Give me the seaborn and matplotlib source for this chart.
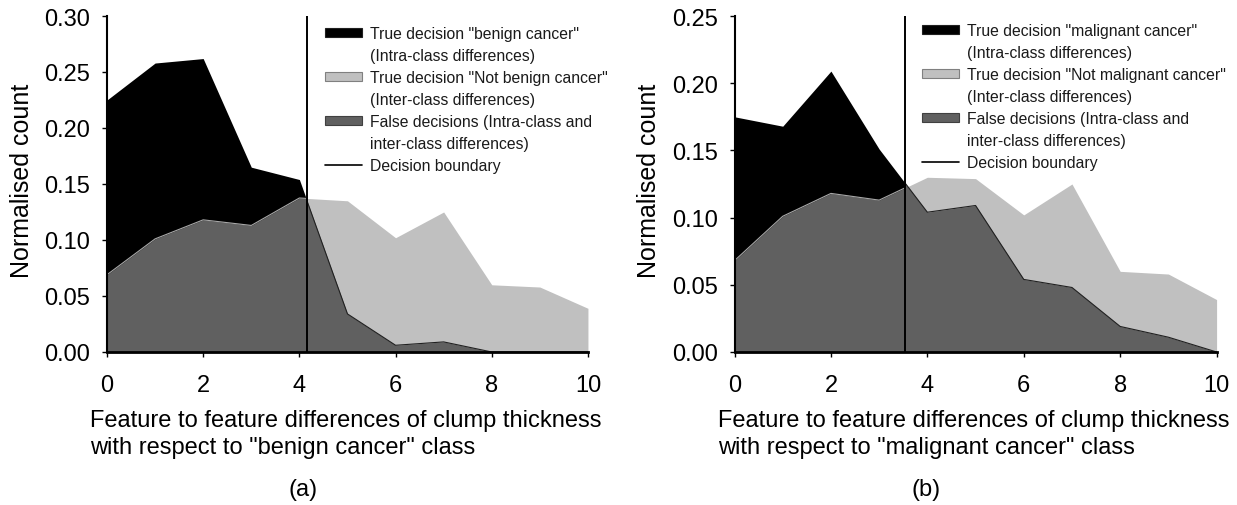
import numpy as np
import pandas as pd
import matplotlib
matplotlib.use("Agg")
import matplotlib.pyplot as plt
from matplotlib.patches import Patch, Rectangle
from matplotlib.lines import Line2D
import seaborn as sns

# ---- data ----
x_vals = [0, 1, 2, 3, 4, 5, 6, 7, 8, 9, 10]

# panel (a): benign cancer
intra_a = [0.225, 0.258, 0.262, 0.165, 0.154, 0.034, 0.006, 0.009, 0.0, 0.0, 0.0]
inter_a = [0.069, 0.101, 0.118, 0.113, 0.1375, 0.135, 0.102, 0.125, 0.060, 0.058, 0.039]
boundary_a = 4.15

# panel (b): malignant cancer
intra_b = [0.175, 0.168, 0.209, 0.151, 0.104, 0.109, 0.054, 0.048, 0.019, 0.011, 0.0]
inter_b = [0.068, 0.101, 0.118, 0.113, 0.130, 0.129, 0.102, 0.125, 0.060, 0.058, 0.039]
boundary_b = 3.54

y_max = [0.30, 0.25]
y_step = [0.05, 0.05]
x_ticks = [0, 2, 4, 6, 8, 10]

legend_labels_a = ['True decision "benign cancer"', '(Intra-class differences)',
                   'True decision "Not benign cancer"', '(Inter-class differences)',
                   'False decisions (Intra-class and', 'inter-class differences)',
                   'Decision boundary']
legend_labels_b = ['True decision "malignant cancer"', '(Intra-class differences)',
                   'True decision "Not malignant cancer"', '(Inter-class differences)',
                   'False decisions (Intra-class and', 'inter-class differences)',
                   'Decision boundary']
xlabels = ['Feature to feature differences of clump thickness\nwith respect to "benign cancer" class',
           'Feature to feature differences of clump thickness\nwith respect to "malignant cancer" class']
panel_tags = ['(a)', '(b)']

BLACK = '#000000'
LIGHT = '#c0c0c0'
DARK = '#606060'

sns.set_theme(style="ticks")
plt.rcParams['font.family'] = ['Liberation Sans', 'DejaVu Sans']

fig = plt.figure(figsize=(12.37, 5.06), dpi=100)
axes = [fig.add_axes([0.0865, 0.3024, 0.3888, 0.664]),
        fig.add_axes([0.5938, 0.3024, 0.3897, 0.664])]

panels = [(intra_a, inter_a, boundary_a, legend_labels_a, (0.453, 0.970), 0.407),
          (intra_b, inter_b, boundary_b, legend_labels_b, (0.389, 0.979), 0.397)]

for i, (ax, (intra, inter, bnd, labels, lpos, tagx)) in enumerate(zip(axes, panels)):
    df = pd.DataFrame({'x': x_vals, 'intra': intra, 'inter': inter})

    def left_clip():
        return Rectangle((-1, -1), bnd + 1, 3, transform=ax.transData)

    def right_clip():
        return Rectangle((bnd, -1), 20, 3, transform=ax.transData)

    p = ax.fill_between(df['x'], df['intra'], color=BLACK, lw=0)
    p.set_clip_path(left_clip())
    p = ax.fill_between(df['x'], df['inter'], color=LIGHT, lw=0)
    p.set_clip_path(right_clip())
    p = ax.fill_between(df['x'], df['inter'], color=DARK, lw=0)
    p.set_clip_path(left_clip())
    p = ax.fill_between(df['x'], df['intra'], color=DARK, lw=0)
    p.set_clip_path(right_clip())

    # outlines of the false-decision region
    sns.lineplot(data=df, x='x', y='inter', ax=ax, color='#a8a8a8', lw=0.8)
    ax.lines[-1].set_clip_path(left_clip())
    sns.lineplot(data=df, x='x', y='intra', ax=ax, color='#202020', lw=0.8)
    ax.lines[-1].set_clip_path(right_clip())

    ax.axvline(bnd, color='black', lw=1.4)

    ax.set_xlim(0, 10)
    ax.set_ylim(0, y_max[i])
    ax.set_xticks(x_ticks)
    yt = np.arange(0, y_max[i] + 1e-9, y_step[i])
    ax.set_yticks(yt)
    ax.set_yticklabels([f'{v:.2f}' for v in yt])
    ax.tick_params(axis='x', direction='out', length=3.6, width=1, pad=12, labelsize=17, colors='black')
    ax.tick_params(axis='y', direction='out', length=3.6, width=1, pad=8.5, labelsize=17, colors='black')
    sns.despine(ax=ax)
    ax.spines['left'].set_linewidth(1.5)
    ax.spines['left'].set_color('black')
    ax.spines['bottom'].set_linewidth(2.0)
    ax.spines['bottom'].set_color('black')
    ax.spines['left'].set_zorder(5)
    ax.spines['bottom'].set_zorder(5)

    ax.set_ylabel('Normalised count', fontsize=18, color='black')
    ax.yaxis.set_label_coords(-0.152, 0.512)
    ax.set_xlabel(xlabels[i], fontsize=17, ha='left', color='black', linespacing=1.28)
    ax.xaxis.set_label_coords(-0.035, -0.170)

    ax.text(tagx, -0.408, panel_tags[i], transform=ax.transAxes,
            ha='center', va='center', fontsize=17, color='black')

    handles = [Patch(facecolor=BLACK, edgecolor='#202020', lw=0.8),
               Patch(facecolor='none', edgecolor='none'),
               Patch(facecolor=LIGHT, edgecolor='#808080', lw=0.8),
               Patch(facecolor='none', edgecolor='none'),
               Patch(facecolor=DARK, edgecolor='#404040', lw=0.8),
               Patch(facecolor='none', edgecolor='none'),
               Line2D([0], [0], color='black', lw=1.2)]
    leg = ax.legend(handles, labels, loc='upper left', bbox_to_anchor=lpos,
                    frameon=False, fontsize=11.3, handlelength=2.35, handleheight=0.5,
                    handletextpad=0.5, labelspacing=0.45, borderpad=0.0, borderaxespad=0)
    for t in leg.get_texts():
        t.set_color('#1a1a1a')

fig.savefig('out.png', dpi=100)
